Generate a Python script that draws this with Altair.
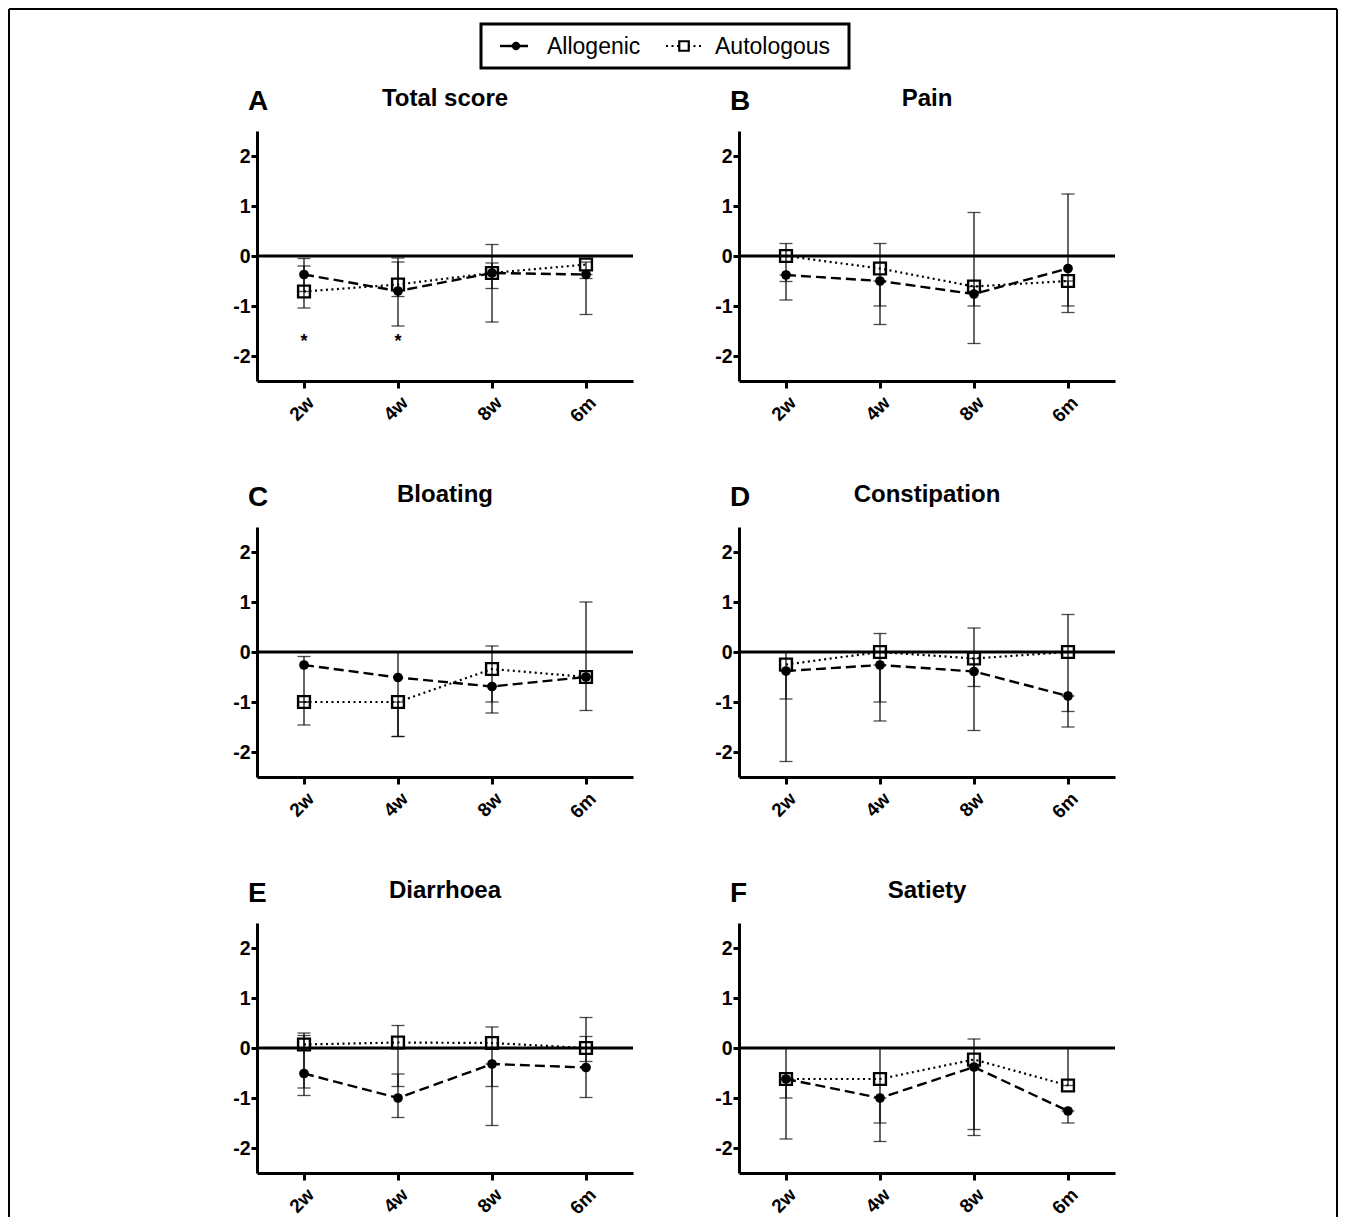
import altair as alt
import pandas as pd

FONT = "Liberation Sans"

timepoints = ["2w", "4w", "8w", "6m"]
series_names = ["Allogenic", "Autologous"]
panel_titles = ["Total score", "Pain", "Bloating", "Constipation", "Diarrhoea", "Satiety"]
panel_letters = ["A", "B", "C", "D", "E", "F"]

# Total score
total_allo = [-0.37, -0.70, -0.34, -0.37]
total_allo_lo = [-1.04, -1.40, -1.32, -1.17]
total_allo_hi = [-0.05, -0.04, 0.23, -0.37]
total_auto = [-0.71, -0.57, -0.34, -0.17]
total_auto_lo = [-0.71, -0.81, -0.65, -0.45]
total_auto_hi = [-0.20, -0.12, -0.14, -0.12]
star_times = ["2w", "4w"]
star_values = [-1.62, -1.62]

# Pain
pain_allo = [-0.38, -0.50, -0.76, -0.25]
pain_allo_lo = [-0.88, -1.37, -1.75, -1.00]
pain_allo_hi = [-0.38, -0.50, 0.87, 1.24]
pain_auto = [0.0, -0.25, -0.61, -0.50]
pain_auto_lo = [-0.51, -1.00, -1.00, -1.13]
pain_auto_hi = [0.25, 0.25, -0.61, -0.50]

# Bloating
bloat_allo = [-0.26, -0.51, -0.69, -0.50]
bloat_allo_lo = [-1.46, -1.69, -1.22, -1.17]
bloat_allo_hi = [-0.09, 0.0, -0.69, 1.00]
bloat_auto = [-1.0, -1.0, -0.34, -0.50]
bloat_auto_lo = [-1.0, -1.69, -1.00, -0.50]
bloat_auto_hi = [-1.0, -1.0, 0.12, -0.50]

# Constipation
const_allo = [-0.38, -0.26, -0.39, -0.88]
const_allo_lo = [-2.19, -1.38, -1.57, -1.50]
const_allo_hi = [-0.38, -0.26, 0.48, -0.88]
const_auto = [-0.25, 0.0, -0.13, 0.0]
const_auto_lo = [-0.94, -1.00, -0.69, -1.19]
const_auto_hi = [0.0, 0.37, -0.13, 0.75]

# Diarrhoea
diar_allo = [-0.51, -1.00, -0.32, -0.39]
diar_allo_lo = [-0.95, -1.39, -1.55, -0.99]
diar_allo_hi = [0.25, -0.52, -0.32, 0.23]
diar_auto = [0.07, 0.11, 0.10, 0.0]
diar_auto_lo = [-0.80, -0.77, -0.77, -0.27]
diar_auto_hi = [0.30, 0.45, 0.42, 0.61]

# Satiety
sati_allo = [-0.62, -1.00, -0.38, -1.26]
sati_allo_lo = [-1.82, -1.87, -1.75, -1.50]
sati_allo_hi = [0.0, -1.00, -0.38, -1.26]
sati_auto = [-0.62, -0.62, -0.23, -0.75]
sati_auto_lo = [-1.00, -1.50, -1.63, -0.75]
sati_auto_hi = [-0.62, 0.0, 0.18, 0.0]

PW, PH = 376, 250


def make_df(allo, allo_lo, allo_hi, auto, auto_lo, auto_hi):
    rows = []
    for i, t in enumerate(timepoints):
        rows.append(dict(time=t, series="Allogenic", value=allo[i], lo=allo_lo[i], hi=allo_hi[i]))
        rows.append(dict(time=t, series="Autologous", value=auto[i], lo=auto_lo[i], hi=auto_hi[i]))
    return pd.DataFrame(rows)


x_axis = alt.Axis(title=None, labelAngle=-45, labelFont=FONT, labelFontSize=19,
                  labelFontWeight="bold", labelColor="black", domainWidth=3,
                  domainColor="black", tickWidth=3, tickSize=7, tickColor="black",
                  labelPadding=5, grid=False)
y_axis = alt.Axis(title=None, values=[-2, -1, 0, 1, 2], labelFont=FONT, labelFontSize=19.5,
                  labelFontWeight="bold", labelColor="black", domainWidth=3,
                  domainColor="black", tickWidth=3, tickSize=6, tickColor="black",
                  labelPadding=1, grid=False, labelExpr="'' + datum.value")
x_scale = alt.Scale(type="point", padding=0.5, domain=timepoints)
y_scale = alt.Scale(domain=[-2.5, 2.5], nice=False, zero=False)
no_view = alt.ViewBackground(stroke="transparent", strokeWidth=0)


def X():
    return alt.X("time:N", sort=timepoints, scale=x_scale, axis=x_axis)


def Y(field):
    return alt.Y(field, scale=y_scale, axis=y_axis)


def panel(title, letter, df, stars=None):
    base = alt.Chart(df)
    err = base.mark_rule(color="black", strokeWidth=1.2).encode(
        x=X(), y=Y("lo:Q"), y2="hi:Q")
    cap_lo = base.mark_tick(color="black", thickness=1.3, size=13).encode(x=X(), y=Y("lo:Q"))
    cap_hi = base.mark_tick(color="black", thickness=1.3, size=13).encode(x=X(), y=Y("hi:Q"))
    zero = alt.Chart(pd.DataFrame({"z": [0]})).mark_rule(color="black", strokeWidth=3).encode(
        y=Y("z:Q"))
    allo_line = base.transform_filter(alt.datum.series == "Allogenic").mark_line(
        color="black", strokeWidth=2.4, strokeDash=[10, 5]).encode(x=X(), y=Y("value:Q"))
    auto_line = base.transform_filter(alt.datum.series == "Autologous").mark_line(
        color="black", strokeWidth=2.2, strokeDash=[2, 3.5]).encode(x=X(), y=Y("value:Q"))
    allo_pt = base.transform_filter(alt.datum.series == "Allogenic").mark_point(
        shape="circle", filled=True, size=95, color="black", opacity=1).encode(
        x=X(), y=Y("value:Q"))
    auto_pt = base.transform_filter(alt.datum.series == "Autologous").mark_point(
        shape="square", filled=False, size=140, color="black", strokeWidth=2.4, opacity=1).encode(
        x=X(), y=Y("value:Q"))
    txt = alt.Chart(pd.DataFrame({"letter": [letter], "title": [title]}))
    lab = txt.mark_text(font=FONT, fontSize=28, fontWeight="bold", align="left",
                        baseline="alphabetic", color="black").encode(
        text="letter:N", x=alt.value(-9), y=alt.value(-21))
    ttl = txt.mark_text(font=FONT, fontSize=24, fontWeight="bold", align="center",
                        baseline="alphabetic", color="black").encode(
        text="title:N", x=alt.value(PW / 2), y=alt.value(-25))
    layers = [err, cap_lo, cap_hi, zero, allo_line, auto_line, allo_pt, auto_pt, lab, ttl]
    if stars is not None:
        sdf = pd.DataFrame({"time": stars[0], "value": stars[1], "s": ["*"] * len(stars[0])})
        st = alt.Chart(sdf).mark_text(font=FONT, fontSize=18, fontWeight="bold",
                                      color="black", baseline="middle", dy=5).encode(
            x=X(), y=Y("value:Q"), text="s:N")
        layers.append(st)
    return alt.layer(*layers).properties(width=PW, height=PH, view=no_view)


pA = panel(panel_titles[0], panel_letters[0],
           make_df(total_allo, total_allo_lo, total_allo_hi, total_auto, total_auto_lo, total_auto_hi),
           stars=(star_times, star_values))
pB = panel(panel_titles[1], panel_letters[1],
           make_df(pain_allo, pain_allo_lo, pain_allo_hi, pain_auto, pain_auto_lo, pain_auto_hi))
pC = panel(panel_titles[2], panel_letters[2],
           make_df(bloat_allo, bloat_allo_lo, bloat_allo_hi, bloat_auto, bloat_auto_lo, bloat_auto_hi))
pD = panel(panel_titles[3], panel_letters[3],
           make_df(const_allo, const_allo_lo, const_allo_hi, const_auto, const_auto_lo, const_auto_hi))
pE = panel(panel_titles[4], panel_letters[4],
           make_df(diar_allo, diar_allo_lo, diar_allo_hi, diar_auto, diar_auto_lo, diar_auto_hi))
pF = panel(panel_titles[5], panel_letters[5],
           make_df(sati_allo, sati_allo_lo, sati_allo_hi, sati_auto, sati_auto_lo, sati_auto_hi))

# Legend (box and items) plus the thin outer figure frame, drawn in the top cell
LX0, LW, LH = 224, 368, 44
FL, FT, FR, FB = -248, -15, 1080, 1193  # frame edges relative to the legend cell
leg_df = pd.DataFrame({"series": series_names})
lx = alt.X("series:N", scale=alt.Scale(type="point", domain=series_names,
                                       range=[LX0 + 35, LX0 + 203], padding=0), axis=None)
lx2 = alt.X2("series:N")
leg_base = alt.Chart(leg_df)
one = alt.Chart(pd.DataFrame({"s": [0]}))
leg_box = one.mark_rect(fill="white", fillOpacity=0, stroke="black", strokeWidth=3).encode(
    x=alt.value(LX0), x2=alt.value(LX0 + LW), y=alt.value(0), y2=alt.value(LH))
frame_l = one.mark_rule(color="black", strokeWidth=2).encode(
    x=alt.value(FL), y=alt.value(FT), y2=alt.value(FB))
frame_r = one.mark_rule(color="black", strokeWidth=2).encode(
    x=alt.value(FR), y=alt.value(FT), y2=alt.value(FB))
frame_t = one.mark_rule(color="black", strokeWidth=2).encode(
    x=alt.value(FL), x2=alt.value(FR), y=alt.value(FT))
leg_allo_line = leg_base.transform_filter(alt.datum.series == "Allogenic").mark_rule(
    color="black", strokeWidth=2.4, strokeDash=[12, 4], xOffset=-16, x2Offset=16).encode(
    x=lx, x2=lx2, y=alt.value(22))
leg_auto_line = leg_base.transform_filter(alt.datum.series == "Autologous").mark_rule(
    color="black", strokeWidth=2.2, strokeDash=[2, 3.5], xOffset=-18, x2Offset=18).encode(
    x=lx, x2=lx2, y=alt.value(22))
leg_allo_pt = leg_base.transform_filter(alt.datum.series == "Allogenic").mark_point(
    shape="circle", filled=True, size=70, color="black", opacity=1).encode(x=lx, y=alt.value(22))
leg_auto_pt = leg_base.transform_filter(alt.datum.series == "Autologous").mark_point(
    shape="square", filled=True, fill="white", size=90, stroke="black", strokeWidth=2.2,
    opacity=1).encode(x=lx, y=alt.value(22))
leg_text = leg_base.mark_text(font=FONT, fontSize=23, align="left", baseline="middle",
                              dx=31, color="black").encode(x=lx, y=alt.value(23), text="series:N")
legend = alt.layer(frame_l, frame_r, frame_t, leg_box, leg_allo_line, leg_auto_line,
                   leg_allo_pt, leg_auto_pt, leg_text).properties(
    width=LW, height=LH, view=no_view)

row1 = alt.hconcat(pA, pB, spacing=79)
row2 = alt.hconcat(pC, pD, spacing=79)
row3 = alt.hconcat(pE, pF, spacing=79)
grid = alt.vconcat(row1, row2, row3, spacing=57)

chart = alt.vconcat(legend, grid, spacing=63, bounds="flush").properties(
    padding=0, background="white"
).configure_view(stroke="transparent", strokeWidth=0)

chart.save("out.html", embed_options={"renderer": "svg", "actions": False})
